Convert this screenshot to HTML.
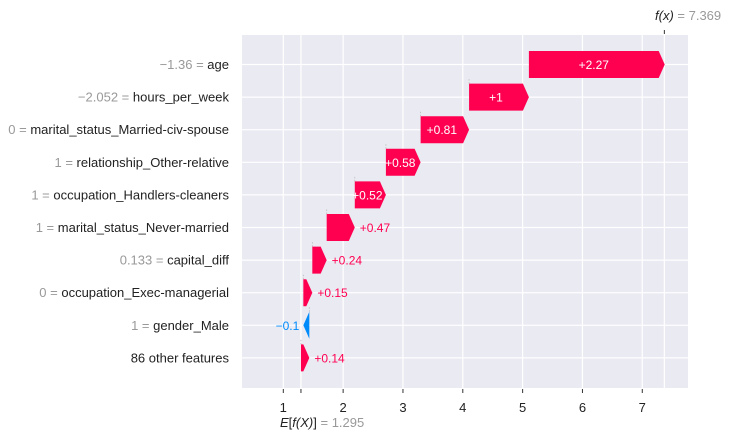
<!DOCTYPE html>
<html><head><meta charset="utf-8"><style>
html,body{margin:0;padding:0;background:#fff;}
svg{display:block;font-family:"Liberation Sans",sans-serif;}
</style></head><body>
<svg id="chart" width="733" height="436" xmlns="http://www.w3.org/2000/svg"></svg>
<script>
const featureNames = ["age","hours_per_week","marital_status_Married-civ-spouse","relationship_Other-relative","occupation_Handlers-cleaners","marital_status_Never-married","capital_diff","occupation_Exec-managerial","gender_Male","86 other features"];
const featureValues = ["\u22121.36","\u22122.052","0","1","1","1","0.133","0","1",""];
const shapValues = [2.27,1,0.81,0.58,0.52,0.47,0.24,0.15,-0.1,0.14];
const shapLabels = ["+2.27","+1","+0.81","+0.58","+0.52","+0.47","+0.24","+0.15","\u22120.1","+0.14"];
const baseValue = 1.295;
const finalValue = 7.369;
const xTicks = [1,2,3,4,5,6,7];

const svg = document.getElementById('chart');
const NS = "http://www.w3.org/2000/svg";
const L=242,R=688,T=35,B=388;
const x = v => 283.3 + (v-1)*59.83;
const rowY = i => 64.5 + i*32.6;
const RED="#ff0051", BLUE="#008bfb";
function mk(tag, attrs, parent){const e=document.createElementNS(NS,tag);for(const k in attrs)e.setAttribute(k,attrs[k]);(parent||svg).appendChild(e);return e;}

const bg = mk('rect',{x:L,y:T,width:R-L,height:B-T,fill:'#eaeaf2'});


const grid = mk('g',{stroke:'#fff','stroke-width':1.2});


xTicks.concat([baseValue,finalValue]).forEach(v=>mk('line',{x1:x(v),x2:x(v),y1:T,y2:B},grid));
featureNames.forEach((n,i)=>mk('line',{x1:L,x2:R,y1:rowY(i),y2:rowY(i)},grid));

// cumulative positions, bottom-up
const n = shapValues.length;
const starts = new Array(n);
let cur = baseValue;
for(let i=n-1;i>=0;i--){starts[i]=cur;cur+=shapValues[i];}

const bars = mk('g',{});


const H=27;
for(let i=0;i<n;i++){
  const s=starts[i], e=s+shapValues[i], y=rowY(i);
  const x0=x(s), x1=x(e);
  const w=Math.abs(x1-x0);
  const head=Math.min(6,w);
  let pts;
  if(shapValues[i]>=0){
    pts=[[x0,y-H/2],[x1-head,y-H/2],[x1,y],[x1-head,y+H/2],[x0,y+H/2]];
  } else {
    pts=[[x0,y-H/2],[x1+head,y-H/2],[x1,y],[x1+head,y+H/2],[x0,y+H/2]];
  }
  const col = shapValues[i]>=0?RED:BLUE;
  // connector dotted line
  if(i>0){
    const cl = mk('line',{x1:x0,x2:x0,y1:y-H/2,y2:rowY(i-1)+H/2,stroke:'#bbb','stroke-width':0.8,'stroke-dasharray':'1.5,1.5'},bars);
    
    
  }
  const p = mk('polygon',{points:pts.map(q=>q.join(',')).join(' '),fill:col},bars);
  
  
  let t;
  if(w>30){
    t=mk('text',{x:(x0+x1)/2-(shapValues[i]>=0?head/2:-head/2),y:y+4.5,'text-anchor':'middle',fill:'#fff','font-size':12},bars);
  } else if(shapValues[i]>=0){
    t=mk('text',{x:Math.max(x0,x1)+5,y:y+4.5,'text-anchor':'start',fill:col,'font-size':12},bars);
  } else {
    t=mk('text',{x:Math.min(x0,x1)-4,y:y+4.5,'text-anchor':'end',fill:col,'font-size':12},bars);
  }
  t.textContent=shapLabels[i];
  
  
  // y label
  const yl = mk('text',{x:229,y:y+4.5,'text-anchor':'end','font-size':13});
  
  
  if(featureValues[i]!==""){
    const a=mk('tspan',{fill:'#999'},yl);a.textContent=featureValues[i]+" = ";
  }
  const b=mk('tspan',{fill:'#222'},yl);b.textContent=featureNames[i];
}

// x ticks
const ax = mk('g',{});


xTicks.forEach(v=>{
  mk('line',{x1:x(v),x2:x(v),y1:B+1,y2:B+5,stroke:'#333','stroke-width':1},ax);
  const t=mk('text',{x:x(v),y:412,'text-anchor':'middle','font-size':13,fill:'#222'},ax);
  t.textContent=v;
  
  
});
mk('line',{x1:x(baseValue),x2:x(baseValue),y1:B+1,y2:B+5,stroke:'#333','stroke-width':1},ax);
mk('line',{x1:x(finalValue),x2:x(finalValue),y1:T-5,y2:T-1,stroke:'#333','stroke-width':1},ax);

const eb = mk('text',{x:280,y:427,'font-size':13,fill:'#222'});


const e1=mk('tspan',{'font-style':'italic'},eb);e1.textContent="E";
const e2=mk('tspan',{},eb);e2.textContent="[";
const e3=mk('tspan',{'font-style':'italic'},eb);e3.textContent="f(X)";
const e4=mk('tspan',{},eb);e4.textContent="]";
const e5=mk('tspan',{fill:'#999'},eb);e5.textContent=" = "+baseValue;

const fx = mk('text',{x:655,y:20,'font-size':13,fill:'#222'});


const f1=mk('tspan',{'font-style':'italic'},fx);f1.textContent="f(x)";
const f2=mk('tspan',{fill:'#999'},fx);f2.textContent=" = "+finalValue;
</script>
</body></html>
